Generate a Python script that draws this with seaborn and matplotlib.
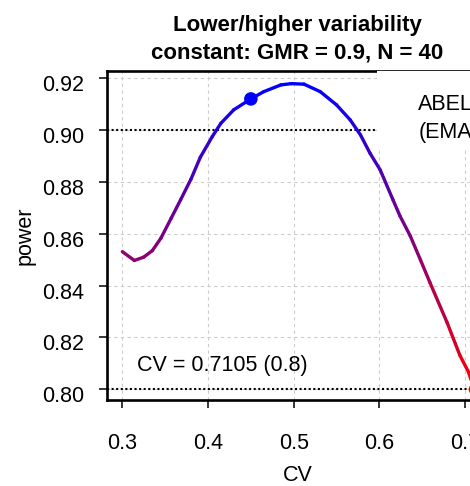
import numpy as np
import pandas as pd
import matplotlib
matplotlib.use('Agg')
import matplotlib.pyplot as plt
import seaborn as sns
from matplotlib.collections import LineCollection
from matplotlib.patches import Rectangle
from matplotlib.transforms import ScaledTranslation

#---------------------------------------------------------
# power curve
cv = [0.300, 0.314, 0.325, 0.335, 0.345, 0.357, 0.368, 0.380, 0.391, 0.405,
      0.415, 0.430, 0.450, 0.465, 0.485, 0.497, 0.512, 0.531, 0.550, 0.566,
      0.578, 0.589, 0.601, 0.616, 0.624, 0.636, 0.648, 0.659, 0.679, 0.694,
      0.704, 0.7105]
power = [0.8531, 0.8497, 0.8510, 0.8535, 0.8583, 0.8660, 0.8731, 0.8810, 0.8895, 0.8975,
         0.9026, 0.9078, 0.9120, 0.9148, 0.9174, 0.9179, 0.9177, 0.9148, 0.9097, 0.9039,
         0.8981, 0.8911, 0.8846, 0.8730, 0.8669, 0.8592, 0.8499, 0.8412, 0.8258, 0.8131,
         0.8067, 0.8000]
pt_cv = [0.45, 0.7105]
pt_power = [0.912, 0.800]
pt_col = ['blue', 'red']
cv_target = 0.8
power_ref = [0.90, 0.80]
xticks = [0.3, 0.4, 0.5, 0.6, 0.7]
yticks = [0.80, 0.82, 0.84, 0.86, 0.88, 0.90, 0.92]
title = ['Lower/higher variability', 'constant: GMR = 0.9, N = 40']
method = ['ABEL', '(EMA)']

#--------------------------------------------------------
sns.set_style('white')
plt.rcParams['font.family'] = ['Liberation Sans', 'DejaVu Sans']
for k in ['text.color', 'axes.labelcolor', 'xtick.color', 'ytick.color']:
	plt.rcParams[k] = 'black'

fig = plt.figure(figsize=(4.7, 4.86), dpi=100)
ax = fig.add_axes([0.2277, 0.1770, 0.8106, 0.6776])
ax.set_xlim(0.2821, 0.7268)
ax.set_ylim(0.7959, 0.9229)

ax.grid(True, color='#cccccc', lw=0.8, ls=(0, (3, 3)))
ax.set_axisbelow(True)

# reference lines
for h in power_ref:
	ax.axhline(h, color='black', lw=1.5, ls=(0, (1, 1.2)), zorder=2)

# colour ramp red -> blue along power
df = pd.DataFrame({'cv': cv, 'power': power})
cmap = sns.blend_palette(['red', 'blue'], as_cmap=True)
pts = df[['cv', 'power']].to_numpy()
segs = np.stack([pts[:-1], pts[1:]], axis=1)
mid = (df['power'].to_numpy()[:-1] + df['power'].to_numpy()[1:]) / 2
frac = (mid - df['power'].min()) / (df['power'].max() - df['power'].min())
lc = LineCollection(segs, colors=cmap(frac), linewidths=2.4, capstyle='round', joinstyle='round', zorder=3)
ax.add_collection(lc)

sns.scatterplot(x=pt_cv, y=pt_power, hue=pt_col, palette={'blue': 'blue', 'red': 'red'},
	size=pt_col, sizes={'blue': 95, 'red': 60}, legend=False, linewidth=0, ax=ax, zorder=4)

# white box behind the method text (covers grid, ref line and half of the top spine)
ax.add_patch(Rectangle((0.5972, 0.8923), 0.2, 0.9229 - 0.8923, facecolor='white', edgecolor='none',
	zorder=2.6, clip_on=False))

ax.text(0.6454, 0.9079, method[0], fontsize=15.5, va='baseline', ha='left', zorder=5)
ax.text(0.6454, 0.8970, method[1], fontsize=15.5, va='baseline', ha='left', zorder=5)
ax.text(0.3168, 0.8071, f'CV = {cv[-1]:.4f} ({cv_target:.1f})', fontsize=15.5, va='baseline', ha='left', zorder=5)

# title
ax.annotate(title[0], xy=(0.5, 1), xycoords='axes fraction', xytext=(0, 28.8), textcoords='offset points',
	ha='center', va='baseline', fontsize=16, weight='bold')
ax.annotate(title[1], xy=(0.5, 1), xycoords='axes fraction', xytext=(0, 8.9), textcoords='offset points',
	ha='center', va='baseline', fontsize=16, weight='bold')

# axes
ax.set_xticks(xticks)
ax.set_yticks(yticks)
ax.set_xticklabels([f'{v:.1f}' for v in xticks])
ax.set_yticklabels([f'{v:.2f}' for v in yticks])
ax.tick_params(axis='both', direction='out', length=5.8, width=1.1, color='black', labelsize=15.5,
	labelcolor='black', bottom=True, left=True)
ax.tick_params(axis='x', pad=18)
ax.tick_params(axis='y', pad=10.8)
for lbl in ax.get_yticklabels():
	lbl.set_transform(lbl.get_transform() + ScaledTranslation(0, -5 / 100, fig.dpi_scale_trans))
for sp in ax.spines.values():
	sp.set_color('black')
	sp.set_linewidth(1.9)

ax.set_xlabel('CV', fontsize=15.5, color='black')
ax.set_ylabel('power', fontsize=15.5, color='black')
ax.xaxis.set_label_coords(0.5, -0.198)
ax.yaxis.set_label_coords(-0.188, 0.5)

plt.savefig('out.png', dpi=100)
plt.close()
